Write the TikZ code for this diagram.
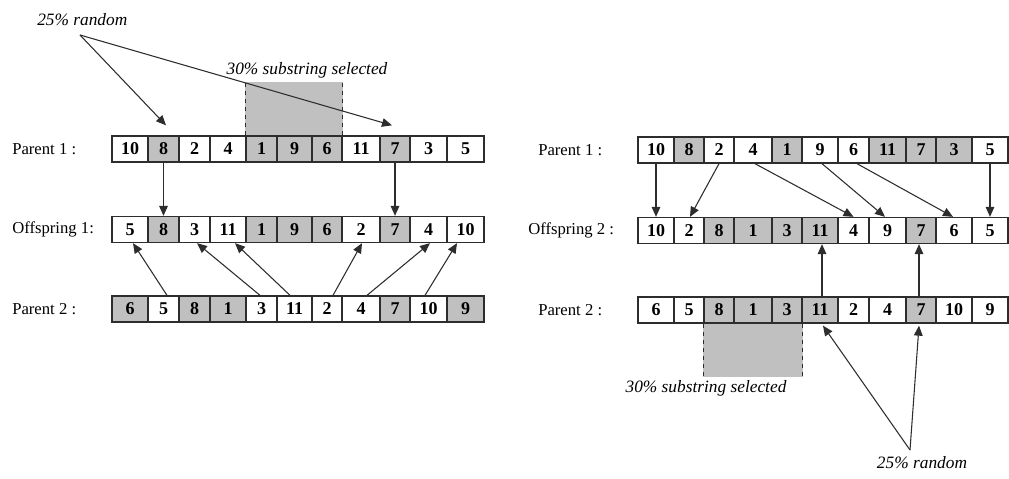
\documentclass[tikz,border=0pt]{standalone}
\usepackage{fontspec}
\setmainfont{Liberation Serif}
\usetikzlibrary{arrows.meta,calc}
\definecolor{cg}{RGB}{192,192,192}
\definecolor{ln}{RGB}{45,45,45}
\begin{document}
\begin{tikzpicture}[x=0.75pt,y=-0.75pt,
  cell/.style={draw=ln, line width=1pt, inner sep=0pt, minimum height=19.5pt, font=\fontsize{13.5}{15}\selectfont\bfseries},
  lbl/.style={anchor=west, inner sep=0pt, font=\fontsize{12.5}{15}\selectfont},
  note/.style={inner sep=0pt, font=\fontsize{13}{15}\selectfont\itshape},
  arr/.style={draw=ln, line width=0.8pt, -{Triangle[length=7.5pt,width=6.5pt]}},
  seledge/.style={draw=ln, dashed, line width=0.8pt}]
\useasboundingbox (0,0) rectangle (1009,478);

% ---------- left panel ----------
\node[lbl] (la1) at (12,149) {Parent 1 :};
\node[lbl] (lb1) at (12,229.5) {Offspring 1:};
\node[lbl] (la2) at (12,309) {Parent 2 :};

\foreach \n/\a/\b/\v/\f in {1/112/148/10/white,2/148/179/8/cg,3/179/210/2/white,4/210/246/4/white,5/246/277/1/cg,6/277/312/9/cg,7/312/342/6/cg,8/342/380/11/white,9/380/410/7/cg,10/410/447/3/white,11/447/484/5/white}
  \node[cell, fill=\f, minimum width={(\b-\a)*0.75pt}] (a1c\n) at ({(\a+\b)/2},149) {\v};
\foreach \n/\a/\b/\v/\f in {1/112/148/5/white,2/148/179/8/cg,3/179/210/3/white,4/210/246/11/white,5/246/277/1/cg,6/277/312/9/cg,7/312/342/6/cg,8/342/380/2/white,9/380/410/7/cg,10/410/447/4/white,11/447/484/10/white}
  \node[cell, fill=\f, minimum width={(\b-\a)*0.75pt}] (b1c\n) at ({(\a+\b)/2},229.5) {\v};
\foreach \n/\a/\b/\v/\f in {1/112/148/6/cg,2/148/179/5/white,3/179/210/8/cg,4/210/246/1/cg,5/246/277/3/white,6/277/312/11/white,7/312/342/2/white,8/342/380/4/white,9/380/410/7/cg,10/410/447/10/white,11/447/484/9/cg}
  \node[cell, fill=\f, minimum width={(\b-\a)*0.75pt}] (a2c\n) at ({(\a+\b)/2},309) {\v};

\fill[cg] ($(a1c5.north west)+(0,-0.6)$) rectangle ($(a1c7.north east)+(0,-53)$);
\draw[seledge] (a1c5.north west) -- ++(0,-53);
\draw[seledge] (a1c7.north east) -- ++(0,-53);
\node[note] (s1) at (307,70) {30\% substring selected};

\node[note, anchor=west] (t1) at (37,20) {25\% random};
\coordinate (r1) at (80,35);
\draw[arr] (r1) -- ($(a1c2.north)+(2.5,-10)$);
\draw[arr] (r1) -- ($(a1c9.north)+(-3,-10)$);

\draw[arr] (a1c2.south) -- (b1c2.north);
\draw[arr] (a1c9.south) -- (b1c9.north);

\draw[arr] ($(a2c2.north)+(3.5,0)$) -- ($(b1c1.south)+(3,0)$);
\draw[arr] ($(a2c5.north)+(-1.5,0)$) -- ($(b1c3.south)+(2.5,0)$);
\draw[arr] ($(a2c6.north)+(-4.5,0)$) -- ($(b1c4.south)+(7,0)$);
\draw[arr] ($(a2c7.north)+(6,0)$) -- ($(b1c8.south)+(1,0)$);
\draw[arr] ($(a2c8.north)+(6,0)$) -- ($(b1c10.south)+(1.5,0)$);
\draw[arr] ($(a2c10.north)+(-3.5,0)$) -- ($(b1c11.south)+(-8.5,0)$);

% ---------- right panel ----------
\node[lbl] (lc1) at (538,150) {Parent 1 :};
\node[lbl] (ld1) at (528,230.5) {Offspring 2 :};
\node[lbl] (lc2) at (538,310) {Parent 2 :};

\foreach \n/\a/\b/\v/\f in {1/638/674/10/white,2/674/704/8/cg,3/704/734/2/white,4/734/772/4/white,5/772/802/1/cg,6/802/838/9/white,7/838/869/6/white,8/869/906/11/cg,9/906/936/7/cg,10/936/972/3/cg,11/972/1008/5/white}
  \node[cell, fill=\f, minimum width={(\b-\a)*0.75pt}] (c1c\n) at ({(\a+\b)/2},150) {\v};
\foreach \n/\a/\b/\v/\f in {1/638/674/10/white,2/674/704/2/white,3/704/734/8/cg,4/734/772/1/cg,5/772/802/3/cg,6/802/838/11/cg,7/838/869/4/white,8/869/906/9/white,9/906/936/7/cg,10/936/972/6/white,11/972/1008/5/white}
  \node[cell, fill=\f, minimum width={(\b-\a)*0.75pt}] (d1c\n) at ({(\a+\b)/2},230.5) {\v};
\foreach \n/\a/\b/\v/\f in {1/638/674/6/white,2/674/704/5/white,3/704/734/8/cg,4/734/772/1/cg,5/772/802/3/cg,6/802/838/11/cg,7/838/869/2/white,8/869/906/4/white,9/906/936/7/cg,10/936/972/10/white,11/972/1008/9/white}
  \node[cell, fill=\f, minimum width={(\b-\a)*0.75pt}] (c2c\n) at ({(\a+\b)/2},310) {\v};

\fill[cg] ($(c2c3.south west)+(0,0.6)$) rectangle ($(c2c5.south east)+(0,53)$);
\draw[seledge] (c2c3.south west) -- ++(0,53);
\draw[seledge] (c2c5.south east) -- ++(0,53);
\node[note] (s2) at (706,388) {30\% substring selected};

\node[note] (t2) at (922,463) {25\% random};
\coordinate (r2) at (910,450);
\draw[arr] (r2) -- ($(c2c6.south)+(3,2)$);
\draw[arr] (r2) -- ($(c2c9.south)+(-2,2)$);

\draw[arr] (c1c1.south) -- (d1c1.north);
\draw[arr] (c1c3.south) -- ($(d1c2.north)+(1,0)$);
\draw[arr] ($(c1c4.south)+(2,0)$) -- (d1c7.north);
\draw[arr] ($(c1c6.south)+(2,0)$) -- ($(d1c8.north)+(-2.5,0)$);
\draw[arr] ($(c1c7.south)+(3.5,0)$) -- ($(d1c10.north)+(-1,0)$);
\draw[arr] (c1c11.south) -- (d1c11.north);

\draw[arr] ($(c2c6.north)+(2,0)$) -- ($(d1c6.south)+(2,0)$);
\draw[arr] ($(c2c9.north)+(-2,0)$) -- ($(d1c9.south)+(-2,0)$);
\end{tikzpicture}
\end{document}
